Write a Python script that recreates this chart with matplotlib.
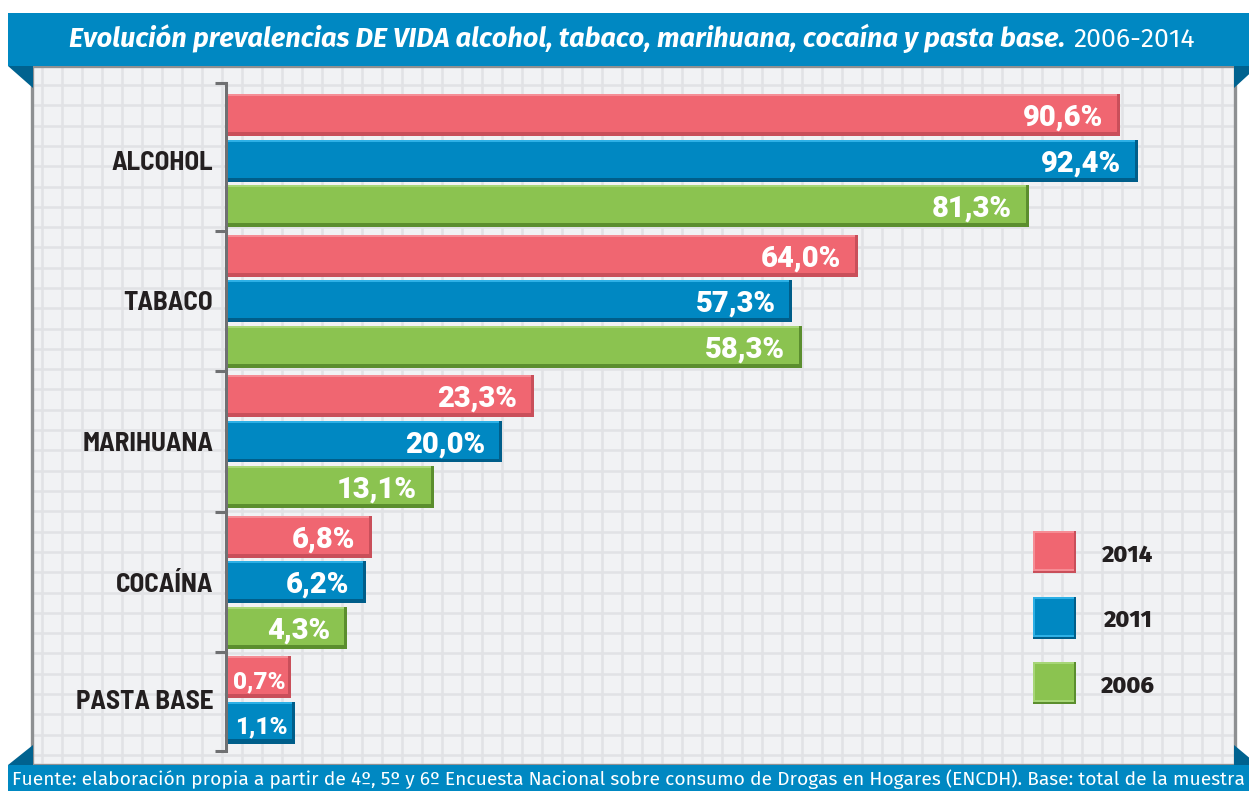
import numpy as np
import matplotlib.pyplot as plt
from matplotlib.patches import Rectangle, Polygon

categories = ["ALCOHOL", "TABACO", "MARIHUANA", "COCAÍNA", "PASTA BASE"]
years = ["2014", "2011", "2006"]
v2014 = [90.6, 64.0, 23.3, 6.8, 0.7]
v2011 = [92.4, 57.3, 20.0, 6.2, 1.1]
v2006 = [81.3, 58.3, 13.1, 4.3, np.nan]
series = [v2014, v2011, v2006]

title_main = "Evolución prevalencias DE VIDA alcohol, tabaco, marihuana, cocaína y pasta base."
title_years = "2006-2014"
source = ("Fuente: elaboración propia a partir de 4º, 5º y 6º Encuesta Nacional sobre consumo "
          "de Drogas en Hogares (ENCDH). Base: total de la muestra")

# colours
face = ["#F06671", "#0088C2", "#8BC350"]
dark = ["#C94F5A", "#005E8A", "#5B8E2E"]
light = ["#F58D95", "#2DB0E6", "#A7D677"]
banner = "#0088C2"
fold = "#00628F"
ink = "#231F20"
semi = ["Barlow Semi Condensed", "Liberation Sans", "DejaVu Sans"]
heavy = ["Roboto", "Liberation Sans", "DejaVu Sans"]
human = ["Fira Sans", "Lato", "DejaVu Sans"]

W, H = 1249, 791
fig = plt.figure(figsize=(W / 100, H / 100), dpi=100)
renderer = fig.canvas.get_renderer()

# background layer in pixel coordinates
bg = fig.add_axes([0, 0, 1, 1])
bg.set_xlim(0, W)
bg.set_ylim(H, 0)
bg.axis("off")

# panel with grid
bg.add_patch(Rectangle((32, 66), 1203, 699, fc="#F1F2F4", ec="none", zorder=0))
for gx in np.arange(42, 1234, 20.0):
    bg.plot([gx, gx], [67, 763], color="#E1E2E5", lw=1.8, zorder=1, solid_capstyle="butt")
for gy in np.arange(85, 763, 20.3):
    bg.plot([33, 1234], [gy, gy], color="#E1E2E5", lw=1.8, zorder=1, solid_capstyle="butt")
bg.add_patch(Rectangle((32, 66), 1203, 699, fc="none", ec="#8E9092", lw=2.4, zorder=2))

# title banner and footer band with folded corners
bg.add_patch(Rectangle((8, 13), W, 53, fc=banner, ec="none", zorder=3))
bg.add_patch(Polygon([(8, 66), (33, 66), (33, 88)], fc=fold, ec="none", zorder=3))
bg.add_patch(Polygon([(1234, 66), (1258, 66), (1234, 88)], fc=fold, ec="none", zorder=3))
bg.add_patch(Rectangle((8, 765), W, 30, fc=banner, ec="none", zorder=3))
bg.add_patch(Polygon([(8, 765), (33, 745), (33, 765)], fc=fold, ec="none", zorder=3))
bg.add_patch(Polygon([(1234, 745), (1234, 765), (1258, 765)], fc=fold, ec="none", zorder=3))


def fit(t, width_px):
    w = t.get_window_extent(renderer).width
    t.set_fontsize(t.get_fontsize() * width_px / w)


t1 = bg.text(69, 47, title_main, color="white", fontsize=18, fontweight="bold",
             fontstyle="italic", family=human, ha="left", va="baseline", zorder=4)
fit(t1, 997)
x_end = bg.transData.inverted().transform(
    (t1.get_window_extent(renderer).x1, 0))[0]
t2 = bg.text(x_end + 8, 47, title_years, color="white", fontsize=18,
             family=human, ha="left", va="baseline", zorder=4)
fit(t2, 122)

t3 = bg.text(12, 785, source, color="white", fontsize=13, family=human,
             ha="left", va="baseline", zorder=4)
fit(t3, 1228)

# bar chart area
sx = 9.85    # px per percentage point
sy = 140.5   # px per category slot
pitch = 45.5 / sy
bar_h = 42 / sy
y_top = -pitch - bar_h / 2 - 11 / sy
y_bot = len(categories) - 1 + bar_h / 2 + 8 / sy

ax_top = 94 - 11
ax_bot = ax_top + (y_bot - y_top) * sy
ax = fig.add_axes([228 / W, 1 - ax_bot / H, (1233 - 228) / W, (ax_bot - ax_top) / H])
ax.set_xlim(0, (1233 - 228) / sx)
ax.set_ylim(y_bot, y_top)
ax.patch.set_visible(False)
for s in ["top", "right", "bottom"]:
    ax.spines[s].set_visible(False)
ax.spines["left"].set_color("#6F7072")
ax.spines["left"].set_linewidth(2.2)
ax.spines["left"].set_position(("outward", 1.1))
ax.set_xticks([])

label_pos = []
for i, cat in enumerate(categories):
    ys = []
    for j, vals in enumerate(series):
        v = vals[i]
        if np.isnan(v):
            continue
        yc = i + (j - 1) * pitch
        ys.append(yc)
        small = v < 2
        room = 0 if v >= 30 else (5.7 if small else 7.8)   # space for the label
        length = v + room
        top = yc - bar_h / 2
        ax.barh(yc, length, height=bar_h, color=dark[j], zorder=2)
        fh = bar_h - 4 / sy
        ax.barh(top + fh / 2, length - 3 / sx, height=fh, color=face[j], zorder=3)
        ax.barh(top + 1.2 / sy, length - 3 / sx, height=2.4 / sy, color=light[j], zorder=4)
        txt = f"{v:.1f}%".replace(".", ",")
        base = top + bar_h - 10 / sy
        if small:
            ax.text(length / 2, base, txt, color="white", fontsize=17.5, fontweight=900,
                    family=heavy, ha="center", va="baseline", zorder=5)
        else:
            ax.text(length - 17 / sx, base, txt, color="white", fontsize=21, fontweight=900,
                    family=heavy, ha="right", va="baseline", zorder=5)
    label_pos.append(np.mean(ys))

bounds = [y_top] + [i + 0.5 for i in range(len(categories) - 1)] + [y_bot]
ax.set_yticks(bounds)
ax.set_yticklabels([])
ax.tick_params(axis="y", which="major", length=8, width=2.2, color="#6F7072", direction="out")
ax.set_yticks(label_pos, minor=True)
ax.set_yticklabels(categories, minor=True)
ax.tick_params(axis="y", which="minor", length=0, pad=9.5)
for lab in ax.get_yticklabels(minor=True):
    lab.set_fontfamily(semi)
    lab.set_fontweight(700)
    lab.set_fontsize(19.5)
    lab.set_color(ink)

# legend: bevelled squares
for j, yr in enumerate(years):
    x0, y0 = 1033, 531 + j * 65.5
    bg.add_patch(Rectangle((x0, y0), 43, 42, fc=dark[j], ec="none", zorder=3))
    bg.add_patch(Rectangle((x0, y0), 41, 40, fc=light[j], ec="none", zorder=3))
    bg.add_patch(Rectangle((x0 + 2, y0 + 2), 39, 36, fc=face[j], ec="none", zorder=3))
    bg.text(1128, y0 + 24, yr, color=ink, fontsize=17, fontweight=800,
            family=human, ha="center", va="center", zorder=4)

plt.savefig("out.png", dpi=100)
